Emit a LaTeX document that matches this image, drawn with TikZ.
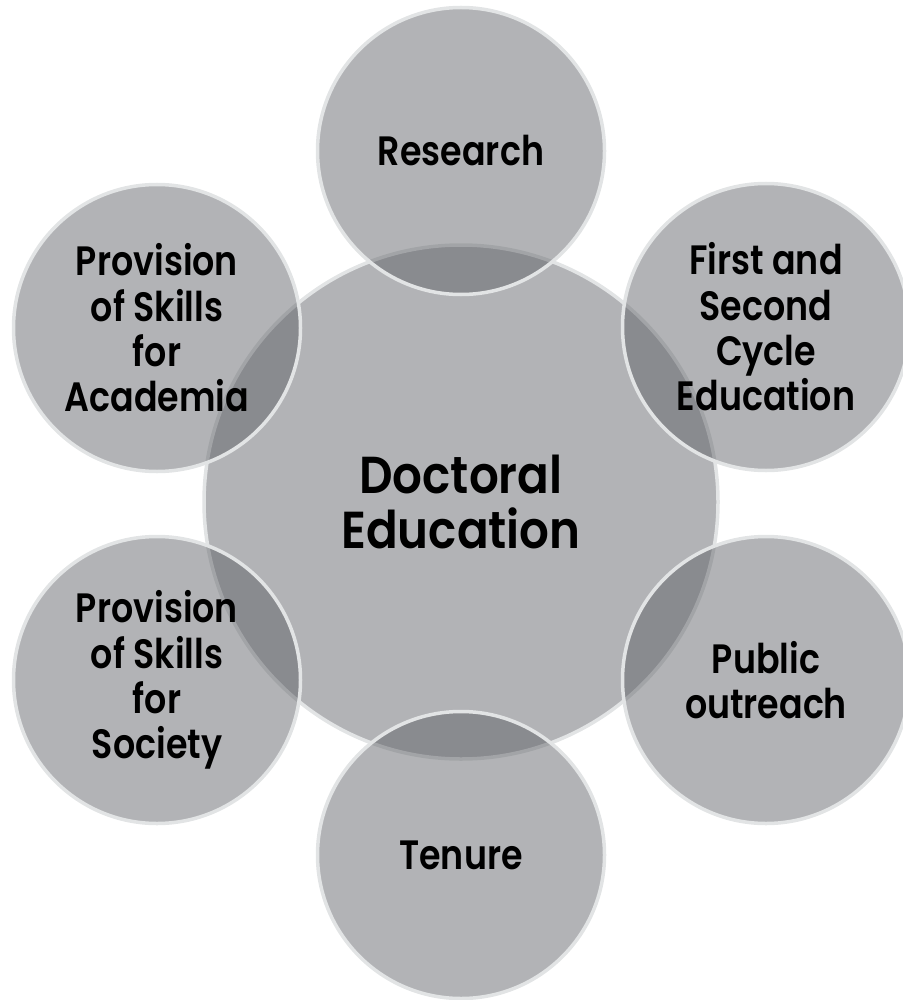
\documentclass[tikz,border=0pt]{standalone}
\usepackage{fontspec}
\setmainfont{Poppins}[BoldFont={* SemiBold}]
\newfontfamily\satfont{Poppins}[UprightFont={* SemiBold}, FakeStretch=0.85]
\newfontfamily\hubfont{Poppins}[UprightFont={* SemiBold}, FakeStretch=0.9]
\definecolor{fillc}{RGB}{88,90,96}
\definecolor{edgec}{RGB}{226,228,229}
\begin{document}
\begin{tikzpicture}[x=1pt,y=-1pt,
  blob/.style={circle, fill=fillc, fill opacity=0.46, text opacity=1,
    draw=edgec, draw opacity=1, line width=3.5pt, inner sep=0pt,
    minimum size=#1, align=center, text=black},
  sat/.style={blob=287pt, font=\satfont\fontsize{41}{45.3}\selectfont},
  hub/.style={blob=514pt, font=\hubfont\fontsize{52}{55}\selectfont}]
\useasboundingbox (0,0) rectangle (902,1000);
\node[hub] (doc) at (461,502) {Doctoral\\Education};
\node[sat] (res) at (461,151) {Research};
\node[sat] (fsc) at (766,327) {First and\\Second\\Cycle\\Education};
\node[sat] (pub) at (766,680) {Public\\outreach};
\node[sat] (ten) at (461,855) {Tenure};
\node[sat] (soc) at (157,680) {Provision\\of Skills\\for\\Society};
\node[sat] (aca) at (157,328) {Provision\\of Skills\\for\\Academia};
\end{tikzpicture}
\end{document}
